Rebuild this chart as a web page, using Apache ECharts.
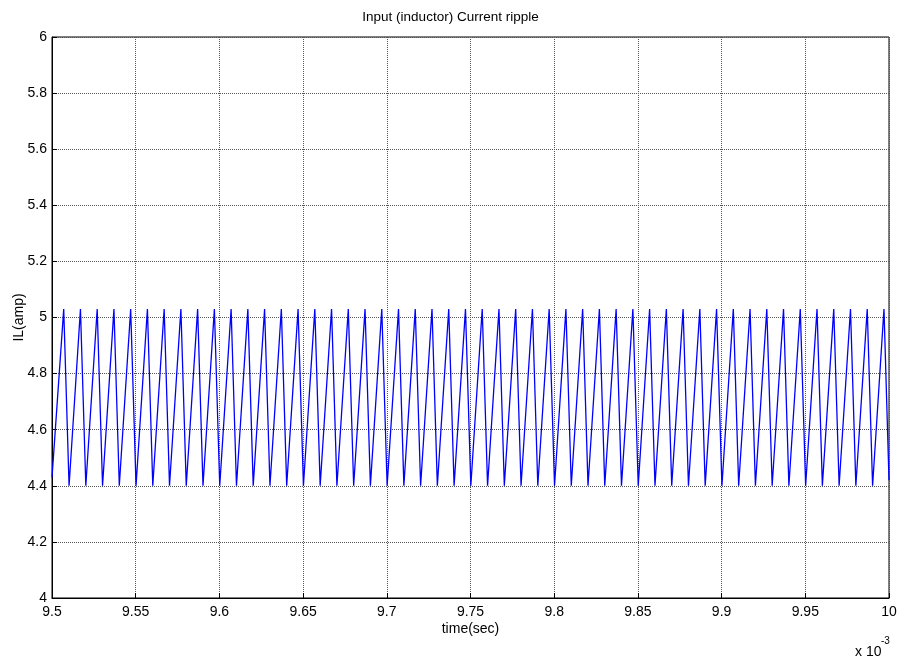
<!DOCTYPE html>
<html>
<head>
<meta charset="utf-8">
<script src="https://cdn.jsdelivr.net/npm/echarts@6/dist/echarts.min.js"></script>
<style>
html,body{margin:0;padding:0;background:#fff;}
#chart{width:901px;height:658px;}
</style>
</head>
<body>
<div id="chart"></div>
<script>
// time in units of 1e-3 s
var xTicks = [9.5, 9.55, 9.6, 9.65, 9.7, 9.75, 9.8, 9.85, 9.9, 9.95, 10];
var yTicks = [4, 4.2, 4.4, 4.6, 4.8, 5, 5.2, 5.4, 5.6, 5.8, 6];

var startPoint = [9.5, 4.43];
var endPoint = [10.0, 4.42];

var peakTimes = [
  9.507, 9.517, 9.527, 9.537, 9.547, 9.557, 9.567, 9.577, 9.587, 9.597,
  9.607, 9.617, 9.627, 9.637, 9.647, 9.657, 9.667, 9.677, 9.687, 9.697,
  9.707, 9.717, 9.727, 9.737, 9.747, 9.757, 9.767, 9.777, 9.787, 9.797,
  9.807, 9.817, 9.827, 9.837, 9.847, 9.857, 9.867, 9.877, 9.887, 9.897,
  9.907, 9.917, 9.927, 9.937, 9.947, 9.957, 9.967, 9.977, 9.987, 9.997
];
var peakValues = [
  5.03, 5.03, 5.03, 5.03, 5.03, 5.03, 5.03, 5.03, 5.03, 5.03,
  5.03, 5.03, 5.03, 5.03, 5.03, 5.03, 5.03, 5.03, 5.03, 5.03,
  5.03, 5.03, 5.03, 5.03, 5.03, 5.03, 5.03, 5.03, 5.03, 5.03,
  5.03, 5.03, 5.03, 5.03, 5.03, 5.03, 5.03, 5.03, 5.03, 5.03,
  5.03, 5.03, 5.03, 5.03, 5.03, 5.03, 5.03, 5.03, 5.03, 5.03
];
var valleyTimes = [
  9.5102, 9.5202, 9.5302, 9.5402, 9.5502, 9.5602, 9.5702, 9.5802, 9.5902, 9.6002,
  9.6102, 9.6202, 9.6302, 9.6402, 9.6502, 9.6602, 9.6702, 9.6802, 9.6902, 9.7002,
  9.7102, 9.7202, 9.7302, 9.7402, 9.7502, 9.7602, 9.7702, 9.7802, 9.7902, 9.8002,
  9.8102, 9.8202, 9.8302, 9.8402, 9.8502, 9.8602, 9.8702, 9.8802, 9.8902, 9.9002,
  9.9102, 9.9202, 9.9302, 9.9402, 9.9502, 9.9602, 9.9702, 9.9802, 9.9902
];
var valleyValues = [
  4.40, 4.40, 4.40, 4.40, 4.40, 4.40, 4.40, 4.40, 4.40, 4.40,
  4.40, 4.40, 4.40, 4.40, 4.40, 4.40, 4.40, 4.40, 4.40, 4.40,
  4.40, 4.40, 4.40, 4.40, 4.40, 4.40, 4.40, 4.40, 4.40, 4.40,
  4.40, 4.40, 4.40, 4.40, 4.40, 4.40, 4.40, 4.40, 4.40, 4.40,
  4.40, 4.40, 4.40, 4.40, 4.40, 4.40, 4.40, 4.40, 4.40
];

var data = [startPoint];
for (var i = 0; i < peakTimes.length; i++) {
  data.push([peakTimes[i], peakValues[i]]);
  if (i < valleyTimes.length) data.push([valleyTimes[i], valleyValues[i]]);
}
data.push(endPoint);

var FONT = '"Liberation Sans", Arial, sans-serif';

function fmt(v) { return String(+v.toFixed(3)); }

var chart = echarts.init(document.getElementById('chart'), null, {renderer: 'canvas'});
chart.setOption({
  animation: false,
  backgroundColor: '#fff',
  title: {
    text: 'Input (inductor) Current ripple',
    left: 'center',
    top: 5,
    textStyle: {fontFamily: FONT, fontSize: 13.5, fontWeight: 'normal', color: '#000'}
  },
  grid: {
    left: 52, top: 37, right: 12, bottom: 60,
    containLabel: false,
    outerBoundsMode: 'none',
    show: true, borderColor: '#000', borderWidth: 1
  },
  xAxis: {
    type: 'value',
    min: xTicks[0], max: xTicks[xTicks.length - 1], interval: 0.05,
    name: 'time(sec)', nameLocation: 'middle', nameGap: 24, nameMoveOverlap: false,
    nameTextStyle: {fontFamily: FONT, fontSize: 14, color: '#000'},
    axisLine: {show: true, onZero: false, lineStyle: {color: '#000', width: 1}},
    axisTick: {show: true, inside: true, length: 5, lineStyle: {color: '#000'}},
    axisLabel: {fontFamily: FONT, fontSize: 14, color: '#000', margin: 7, formatter: fmt},
    splitLine: {show: true, lineStyle: {color: '#555', type: 'dotted', width: 1}}
  },
  yAxis: {
    type: 'value',
    min: yTicks[0], max: yTicks[yTicks.length - 1], interval: 0.2,
    name: 'IL(amp)', nameLocation: 'middle', nameGap: 26, nameRotate: 90, nameMoveOverlap: false,
    nameTextStyle: {fontFamily: FONT, fontSize: 14, color: '#000'},
    axisLine: {show: true, onZero: false, lineStyle: {color: '#000', width: 1}},
    axisTick: {show: true, inside: true, length: 5, lineStyle: {color: '#000'}},
    axisLabel: {fontFamily: FONT, fontSize: 14, color: '#000', margin: 5, formatter: fmt},
    splitLine: {show: true, lineStyle: {color: '#555', type: 'dotted', width: 1}}
  },
  series: [{
    type: 'line',
    data: data,
    showSymbol: false,
    symbol: 'none',
    lineStyle: {color: '#0000ff', width: 1.3},
    itemStyle: {color: '#0000ff'},
    z: 3
  }],
  graphic: [
    {type: 'text', left: 855, top: 645,
     style: {text: 'x 10', font: '14px ' + FONT, fill: '#000'}},
    {type: 'text', left: 881, top: 636,
     style: {text: '-3', font: '10px ' + FONT, fill: '#000'}}
  ]
});
</script>
</body>
</html>
